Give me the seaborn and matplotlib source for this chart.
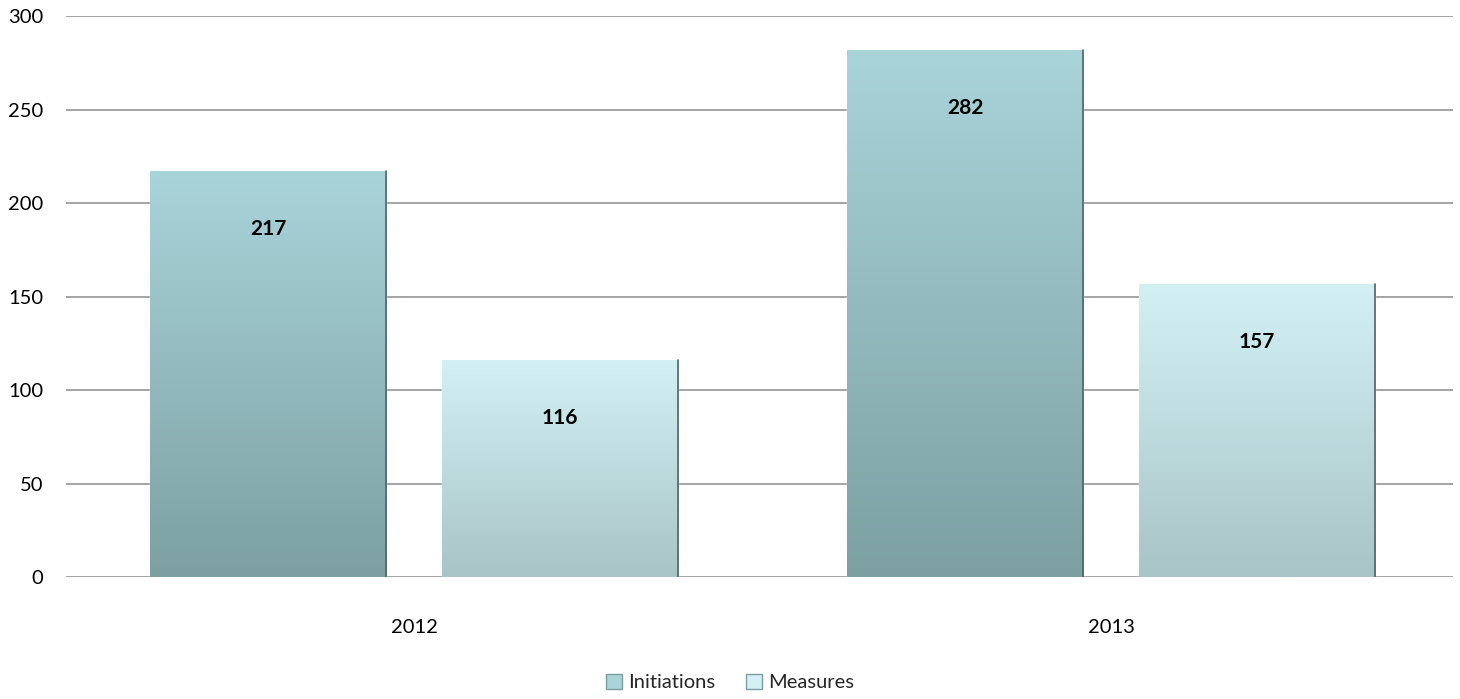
import numpy as np
import pandas as pd
import matplotlib
matplotlib.use('Agg')
import matplotlib.pyplot as plt
import seaborn as sns
from matplotlib.colors import LinearSegmentedColormap
from matplotlib.patches import Patch

years = ['2012', '2013']
initiations = [217, 282]
measures = [116, 157]
series = ['Initiations', 'Measures']

df = pd.DataFrame({
    'year': years * 2,
    'kind': ['Initiations'] * 2 + ['Measures'] * 2,
    'value': initiations + measures,
})

sns.set_style('white')
plt.rcParams['font.family'] = ['Lato', 'DejaVu Sans']

# kolory gradientu: (dol, gora)
grad = {
    'Initiations': ('#7ca0a2', '#a9d4da'),
    'Measures': ('#a8c4c7', '#d3f1f5'),
}

fig, ax = plt.subplots(figsize=(14.6, 6.99), dpi=100)
fig.subplots_adjust(left=0.045, right=0.995, top=0.977, bottom=0.174)

sns.barplot(data=df, x='year', y='value', hue='kind', order=years,
            hue_order=series, width=0.838, gap=0.19,
            palette=[grad[s][1] for s in series], ax=ax, legend=False)

ax.set_yticks(range(0, 301, 50))
ax.yaxis.grid(True, color='#8c8c8c', linewidth=1.1)
ax.set_axisbelow(True)
for s in ax.spines.values():
    s.set_visible(False)
ax.tick_params(axis='both', length=0, labelsize=14.5, colors='#000000')
ax.tick_params(axis='y', pad=16)
ax.tick_params(axis='x', pad=30)
ax.set_xlabel('')
ax.set_ylabel('')

# gradient na slupkach + etykiety
for cont, name in zip(ax.containers, series):
    cmap = LinearSegmentedColormap.from_list(name, grad[name])
    for bar, val in zip(cont, cont.datavalues):
        x0, w, h = bar.get_x(), bar.get_width(), bar.get_height()
        img = np.linspace(0, 1, 256).reshape(-1, 1)
        im = ax.imshow(img, cmap=cmap, origin='lower', aspect='auto',
                       extent=[x0, x0 + w, 0, h], zorder=bar.get_zorder() + 0.1)
        im.set_clip_path(bar)
        # cien po prawej
        ax.plot([x0 + w, x0 + w], [0, h], color='#4f6668', lw=1.2,
                zorder=bar.get_zorder() + 0.2)
        ax.text(x0 + w / 2, val - 31, f'{int(val)}', ha='center', va='center',
                fontsize=15, fontweight='bold', color='black', zorder=5)

ax.set_xlim(-0.5, 1.49)
ax.set_ylim(0, 300)

handles = [Patch(facecolor=grad[s][1], edgecolor='#7d9ea0', label=s) for s in series]
fig.legend(handles=handles, loc='lower center', ncol=2, frameon=False,
           fontsize=14.5, bbox_to_anchor=(0.5, -0.015), handlelength=0.8,
           handleheight=0.8, handletextpad=0.3, columnspacing=1.5)

fig.savefig('out.png', dpi=100)
